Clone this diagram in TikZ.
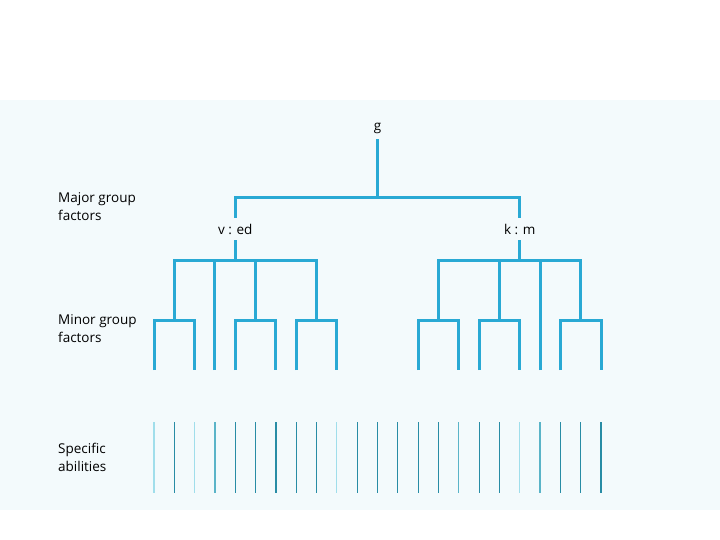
\documentclass[tikz,border=0pt]{standalone}
\usepackage{fontspec}
\usepackage{tikz}
\usetikzlibrary{positioning,calc}
\newfontfamily\labelfont{Open Sans}
\definecolor{treeblue}{RGB}{41,169,212}
\definecolor{paleblue}{RGB}{243,250,252}
\definecolor{speclight}{RGB}{160,222,235}
\definecolor{specmid}{RGB}{90,180,200}
\definecolor{specdark}{RGB}{40,140,165}

\begin{document}
\begin{tikzpicture}[x=1pt,y=-1pt,
  branch/.style={treeblue,line width=3pt,line join=miter},
  factor/.style={font=\labelfont\fontsize{13.5}{18}\selectfont,inner sep=0pt,minimum height=22pt},
  rowlabel/.style={font=\labelfont\fontsize{13.5}{18}\selectfont,anchor=west,align=left,inner sep=0pt}]
\useasboundingbox (0,0) rectangle (720,540);
\fill[paleblue] (0,100) rectangle (720,510);

% Row labels
\node[rowlabel] (major) at (58,207) {Major group\\factors};
\node[rowlabel] (minor) at (58,328.5) {Minor group\\factors};
\node[rowlabel] (specific) at (58,457) {Specific\\abilities};

% Grid of abilities
\foreach \i in {0,...,22} {
  \coordinate (s\i) at ({154+20.32*\i},422);
  \coordinate (t\i) at ({154+20.32*\i},370);
}

% General factor
\node[factor] (g) at (377.5,128) {g};
\coordinate (top) at (377.5,198);
\draw[branch] (g.south) -- (top);

% Major group factors
\node[factor] (ved) at ($(t4)+(0,-141)$) {v : ed};
\node[factor] (km) at ($(t18)+(0,-141)$) {k : m};
\draw[branch] (ved.north) |- (top) -| (km.north);

% Minor group factors
\coordinate (vj) at ($(t4)+(0,-110)$);
\coordinate (kj) at ($(t18)+(0,-110)$);
\coordinate (a1) at ($(t1)+(0,-50)$);
\coordinate (a3) at ($(t5)+(0,-50)$);
\coordinate (a4) at ($(t8)+(0,-50)$);
\coordinate (b1) at ($(t14)+(0,-50)$);
\coordinate (b2) at ($(t17)+(0,-50)$);
\coordinate (b4) at ($(t21)+(0,-50)$);
\draw[branch] (ved.south) -- (vj);
\draw[branch] (a1) |- (vj) -| (a4);
\draw[branch] (t3) -- (t3 |- vj);
\draw[branch] (a3) -- (a3 |- vj);
\draw[branch] (km.south) -- (kj);
\draw[branch] (b1) |- (kj) -| (b4);
\draw[branch] (b2) -- (b2 |- kj);
\draw[branch] (t19) -- (t19 |- kj);

% Leaves
\draw[branch] (t0) |- (a1) -| (t2);
\draw[branch] (t4) |- (a3) -| (t6);
\draw[branch] (t7) |- (a4) -| (t9);
\draw[branch] (t13) |- (b1) -| (t15);
\draw[branch] (t16) |- (b2) -| (t18);
\draw[branch] (t20) |- (b4) -| (t22);

% Specific abilities
\foreach \i/\c in {0/speclight,1/specdark,2/speclight,3/specmid,4/specdark,5/specdark,
  6/specdark,7/specdark,8/specdark,9/speclight,10/specdark,11/specdark,12/specdark,
  13/specdark,14/specdark,15/specmid,16/specdark,17/specdark,18/speclight,19/specmid,
  20/specdark,21/specdark,22/specdark}
  \draw[\c,line width=1.2pt] (s\i) -- ++(0,71);
\end{tikzpicture}
\end{document}
